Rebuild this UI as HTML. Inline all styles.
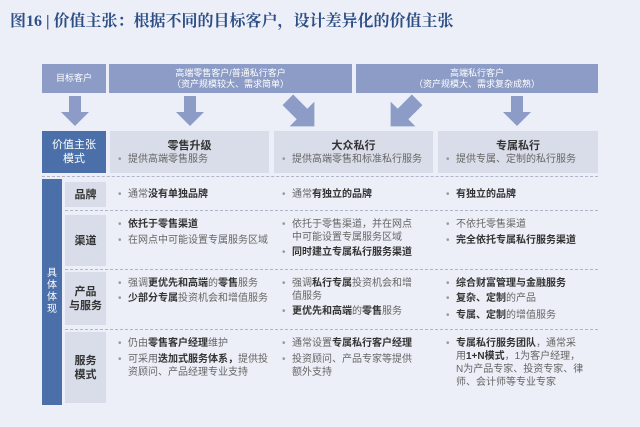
<!DOCTYPE html>
<html><head><meta charset="utf-8"><style>
body{margin:0;width:640px;height:427px;background:#eceff7;font-family:"Liberation Sans","Noto Sans CJK SC",sans-serif;position:relative;overflow:hidden;color:#555}
div{position:absolute;box-sizing:border-box}
.t{font-family:"Liberation Serif","Noto Serif CJK SC",serif;left:10px;top:8px;font-size:16px;color:#2e4f86;font-weight:bold;white-space:nowrap}
.h{background:#8c9cc6;color:#fff;font-size:9px;text-align:center;line-height:11px;display:flex;flex-direction:column;justify-content:center}
.v{background:#d9dde9;text-align:center;color:#333}
.lb{background:#d9dde9;color:#333;font-size:11px;font-weight:bold;text-align:center;display:flex;align-items:center;justify-content:center;line-height:14px}
.i{font-size:10px;line-height:13px;color:#666;padding-left:10px;white-space:nowrap}
.i:before{content:"•";position:absolute;left:0;color:#999}
.i b{color:#333}
.d{height:0;border-top:1px dashed #b0b6c8}
</style></head><body>
<div class="t">图16 | 价值主张：根据不同的目标客户，设计差异化的价值主张</div>
<div class="h" style="left:42px;top:64px;width:64px;height:29px">目标客户</div>
<div class="h" style="left:109px;top:64px;width:243px;height:29px">高端零售客户/普通私行客户<br>（资产规模较大、需求简单）</div>
<div class="h" style="left:356px;top:64px;width:242px;height:29px">高端私行客户<br>（资产规模大、需求复杂成熟）</div>
<svg style="position:absolute;left:0;top:0" width="640" height="427">
<g fill="#8c9cc6">
<polygon points="69,96 81,96 81,112 89,112 75,126 61,112 69,112"/>
<polygon points="184,96 196,96 196,112 204,112 190,126 176,112 184,112"/>
<polygon points="511,96 523,96 523,112 531,112 517,126 503,112 511,112"/>
<g transform="translate(302,114) rotate(-45) scale(1.25)"><polygon points="-6,-16 6,-16 6,0 14,0 0,14 -14,0 -6,0"/></g>
<g transform="translate(403,114) rotate(45) scale(1.25)"><polygon points="-6,-16 6,-16 6,0 14,0 0,14 -14,0 -6,0"/></g>
</g></svg>
<div class="lb" style="left:42px;top:131px;width:64px;height:42px;background:#4b70a9;color:#fff;font-weight:normal">价值主张<br>模式</div>
<div class="v" style="left:110px;top:131px;width:159px;height:42px"></div>
<div class="v" style="left:274px;top:131px;width:159px;height:42px"></div>
<div class="v" style="left:438px;top:131px;width:160px;height:42px"></div>
<div style="left:110px;top:137px;width:159px;text-align:center;font-size:11px;font-weight:bold;color:#333">零售升级</div>
<div style="left:274px;top:137px;width:159px;text-align:center;font-size:11px;font-weight:bold;color:#333">大众私行</div>
<div style="left:438px;top:137px;width:160px;text-align:center;font-size:11px;font-weight:bold;color:#333">专属私行</div>
<div class="i" style="left:118px;top:153px">提供高端零售服务</div>
<div class="i" style="left:282px;top:153px">提供高端零售和标准私行服务</div>
<div class="i" style="left:446px;top:153px">提供专属、定制的私行服务</div>
<div class="d" style="left:42px;top:176px;width:556px"></div>
<div class="lb" style="left:42px;top:179px;width:20px;height:226px;background:#4b70a9;color:#fff;font-weight:normal;font-size:10px;line-height:12px">具<br>体<br>体<br>现</div>
<div class="lb" style="left:65px;top:182px;width:41px;height:25px">品牌</div>
<div class="lb" style="left:65px;top:215px;width:41px;height:51px">渠道</div>
<div class="lb" style="left:65px;top:272px;width:41px;height:53px">产品<br>与服务</div>
<div class="lb" style="left:65px;top:332px;width:41px;height:71px">服务<br>模式</div>
<div class="d" style="left:65px;top:210px;width:533px"></div>
<div class="d" style="left:65px;top:269px;width:533px"></div>
<div class="d" style="left:65px;top:329px;width:533px"></div>
<div class="i" style="left:118px;top:188px">通常<b>没有单独品牌</b></div>
<div class="i" style="left:282px;top:188px">通常<b>有独立的品牌</b></div>
<div class="i" style="left:446px;top:188px"><b>有独立的品牌</b></div>
<div class="i" style="left:118px;top:218px"><b>依托于零售渠道</b></div>
<div class="i" style="left:118px;top:234px">在网点中可能设置专属服务区域</div>
<div class="i" style="left:282px;top:218px">依托于零售渠道，并在网点<br>中可能设置专属服务区域</div>
<div class="i" style="left:282px;top:246px"><b>同时建立专属私行服务渠道</b></div>
<div class="i" style="left:446px;top:218px">不依托零售渠道</div>
<div class="i" style="left:446px;top:234px"><b>完全依托专属私行服务渠道</b></div>
<div class="i" style="left:118px;top:277px">强调<b>更优先和高端</b>的<b>零售</b>服务</div>
<div class="i" style="left:118px;top:292px"><b>少部分专属</b>投资机会和增值服务</div>
<div class="i" style="left:282px;top:277px">强调<b>私行专属</b>投资机会和增<br>值服务</div>
<div class="i" style="left:282px;top:305px"><b>更优先和高端</b>的<b>零售</b>服务</div>
<div class="i" style="left:446px;top:277px"><b>综合财富管理与金融服务</b></div>
<div class="i" style="left:446px;top:292px"><b>复杂、定制</b>的产品</div>
<div class="i" style="left:446px;top:309px"><b>专属、定制</b>的增值服务</div>
<div class="i" style="left:118px;top:337px">仍由<b>零售客户经理</b>维护</div>
<div class="i" style="left:118px;top:353px">可采用<b>迭加式服务体系，</b>提供投<br>资顾问、产品经理专业支持</div>
<div class="i" style="left:282px;top:337px">通常设置<b>专属私行客户经理</b></div>
<div class="i" style="left:282px;top:353px">投资顾问、产品专家等提供<br>额外支持</div>
<div class="i" style="left:446px;top:337px"><b>专属私行服务团队</b>，通常采<br>用<b>1+N模式</b>，1为客户经理，<br>N为产品专家、投资专家、律<br>师、会计师等专业专家</div>
</body></html>
